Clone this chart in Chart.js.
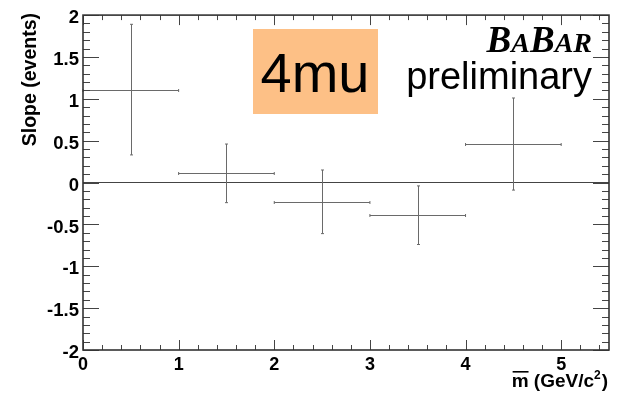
<!DOCTYPE html>
<html>
<head>
<meta charset="utf-8">
<script src="https://cdn.jsdelivr.net/npm/chart.js@4.4.1/dist/chart.umd.min.js"></script>
<style>
  html, body { margin: 0; padding: 0; background: #fff; }
  #wrap { width: 623px; height: 393px; position: relative; }
</style>
</head>
<body>
<div id="wrap"><canvas id="slopeChart"></canvas></div>
<script>
// m-bar bins (GeV/c^2) and the fitted slope in each bin
const massBins = [0.5, 1.5, 2.5, 3.5, 4.5];
const binHalfWidths = [0.5, 0.5, 0.5, 0.5, 0.5];
const slopes = [1.11, 0.11, -0.23, -0.39, 0.46];
const slopeErrors = [0.78, 0.35, 0.38, 0.35, 0.55];

// axis ranges and tick steps
const xRange = [0, 5.5];
const yRange = [-2, 2];
const xMajorStep = 1, xMinorStep = 0.2;
const yMajorStep = 0.5, yMinorStep = 0.1;

const labelFont = '"Liberation Sans", Arial, sans-serif';

// points carry their errors, bars are drawn below from these values
const points = massBins.map((m, i) => ({
    x: m,
    y: slopes[i],
    xErr: binHalfWidths[i],
    yErr: slopeErrors[i]
}));

const errorBars = {
    id: 'errorBars',
    afterDatasetsDraw(chart) {
        const { ctx, scales: { x, y } } = chart;
        const snap = v => Math.round(v) + 0.5;
        ctx.save();
        ctx.strokeStyle = '#6a6a6a';
        ctx.lineWidth = 1;
        chart.data.datasets[0].data.forEach(p => {
            const xc = snap(x.getPixelForValue(p.x));
            const yc = snap(y.getPixelForValue(p.y));
            const xl = x.getPixelForValue(p.x - p.xErr);
            const xr = x.getPixelForValue(p.x + p.xErr);
            const yt = y.getPixelForValue(p.y + p.yErr);
            const yb = y.getPixelForValue(p.y - p.yErr);
            ctx.beginPath();
            ctx.moveTo(xl, yc); ctx.lineTo(xr, yc);
            ctx.moveTo(xc, yt); ctx.lineTo(xc, yb);
            // little end caps
            ctx.moveTo(xl, yc - 1.5); ctx.lineTo(xl, yc + 1.5);
            ctx.moveTo(xr, yc - 1.5); ctx.lineTo(xr, yc + 1.5);
            ctx.moveTo(xc - 1.5, yt); ctx.lineTo(xc + 1.5, yt);
            ctx.moveTo(xc - 1.5, yb); ctx.lineTo(xc + 1.5, yb);
            ctx.stroke();
        });
        ctx.restore();
    }
};

// ROOT style frame with inward ticks on all four sides
const rootFrame = {
    id: 'rootFrame',
    afterDraw(chart) {
        const { ctx, chartArea: a, scales: { x, y } } = chart;
        ctx.save();
        ctx.strokeStyle = '#444';
        ctx.lineWidth = 1;
        ctx.beginPath();
        for (let v = xRange[0]; v <= xRange[1] + 1e-9; v += xMinorStep) {
            const px = Math.round(x.getPixelForValue(v)) + 0.5;
            const major = Math.abs(v / xMajorStep - Math.round(v / xMajorStep)) < 1e-6;
            const len = major ? 10 : 5;
            ctx.moveTo(px, a.bottom); ctx.lineTo(px, a.bottom - len);
            ctx.moveTo(px, a.top); ctx.lineTo(px, a.top + len);
        }
        for (let v = yRange[0]; v <= yRange[1] + 1e-9; v += yMinorStep) {
            const py = Math.round(y.getPixelForValue(v)) + 0.5;
            const major = Math.abs(v / yMajorStep - Math.round(v / yMajorStep)) < 1e-6;
            const len = major ? 16 : 7;
            ctx.moveTo(a.left, py); ctx.lineTo(a.left + len, py);
            ctx.moveTo(a.right, py); ctx.lineTo(a.right - len, py);
        }
        ctx.stroke();
        ctx.lineWidth = 1.6;
        ctx.strokeStyle = '#333';
        ctx.strokeRect(a.left, a.top, a.right - a.left, a.bottom - a.top);
        ctx.restore();
    }
};

// axis titles, channel box and the BaBar tag
const annotations = {
    id: 'annotations',
    afterDraw(chart) {
        const { ctx } = chart;
        ctx.save();
        ctx.fillStyle = '#000';

        // y title
        ctx.save();
        ctx.translate(31, 13);
        ctx.rotate(-Math.PI / 2);
        ctx.font = 'bold 19.5px ' + labelFont;
        ctx.textAlign = 'right';
        ctx.textBaseline = 'middle';
        ctx.fillText('Slope (events)', 0, 0);
        ctx.restore();

        // x title: m-bar (GeV/c^2)
        const base = 387, right = 608;
        ctx.textBaseline = 'alphabetic';
        ctx.textAlign = 'left';
        ctx.font = 'bold 19px ' + labelFont;
        const wMain = ctx.measureText('m (GeV/c').width;
        const wClose = ctx.measureText(')').width;
        const wM = ctx.measureText('m').width;
        ctx.font = 'bold 12px ' + labelFont;
        const wSup = ctx.measureText('2').width;
        let px = right - (wMain + wSup + wClose + 1);
        ctx.font = 'bold 19px ' + labelFont;
        ctx.fillText('m (GeV/c', px, base);
        ctx.fillRect(px + 1, base - 16, wM - 1, 1.6);
        ctx.font = 'bold 12px ' + labelFont;
        ctx.fillText('2', px + wMain, base - 8);
        ctx.font = 'bold 19px ' + labelFont;
        ctx.fillText(')', px + wMain + wSup + 1, base);

        // 4mu box
        ctx.fillStyle = '#fdc086';
        ctx.fillRect(253, 29, 125, 85);
        ctx.fillStyle = '#000';
        ctx.font = '56px ' + labelFont;
        ctx.textAlign = 'center';
        ctx.fillText('4mu', 315, 92);

        // BaBar logo in small caps
        const serif = '"Liberation Serif", "Times New Roman", serif';
        const pieces = [['B', 37], ['A', 28], ['B', 37], ['AR', 28]];
        let total = 0;
        pieces.forEach(([t, s]) => {
            ctx.font = 'italic bold ' + s + 'px ' + serif;
            total += ctx.measureText(t).width;
        });
        let bx = 592 - total;
        ctx.textAlign = 'left';
        pieces.forEach(([t, s]) => {
            ctx.font = 'italic bold ' + s + 'px ' + serif;
            ctx.fillText(t, bx, 52);
            bx += ctx.measureText(t).width;
        });

        ctx.font = '38px ' + labelFont;
        ctx.textAlign = 'right';
        ctx.fillText('preliminary', 592, 89);
        ctx.restore();
    }
};

new Chart(document.getElementById('slopeChart'), {
    type: 'scatter',
    data: {
        datasets: [{
            data: points,
            pointRadius: 0,
            showLine: false
        }]
    },
    options: {
        responsive: true,
        maintainAspectRatio: false,
        animation: false,
        layout: { padding: { left: 0, top: 13, right: 14, bottom: 0 } },
        plugins: {
            legend: { display: false },
            tooltip: { enabled: false }
        },
        scales: {
            x: {
                type: 'linear',
                min: xRange[0],
                max: xRange[1],
                afterFit: scale => { scale.height = 43; },
                grid: { display: false, drawTicks: false },
                border: { display: false },
                ticks: {
                    stepSize: xMajorStep,
                    autoSkip: false,
                    maxRotation: 0,
                    padding: 4,
                    color: '#000',
                    font: { family: labelFont, weight: 'bold', size: 18 },
                    callback: v => Number.isInteger(v) ? String(v) : ''
                }
            },
            y: {
                type: 'linear',
                min: yRange[0],
                max: yRange[1],
                afterFit: scale => { scale.width = 83; },
                grid: {
                    drawTicks: false,
                    lineWidth: 1,
                    color: c => c.tick && c.tick.value === 0 ? '#444' : 'rgba(0,0,0,0)'
                },
                border: { display: false },
                ticks: {
                    stepSize: yMajorStep,
                    autoSkip: false,
                    padding: 4,
                    labelOffset: 3,
                    color: '#000',
                    font: { family: labelFont, weight: 'bold', size: 18.5 },
                    callback: v => String(v)
                }
            }
        }
    },
    plugins: [errorBars, rootFrame, annotations]
});
</script>
</body>
</html>
